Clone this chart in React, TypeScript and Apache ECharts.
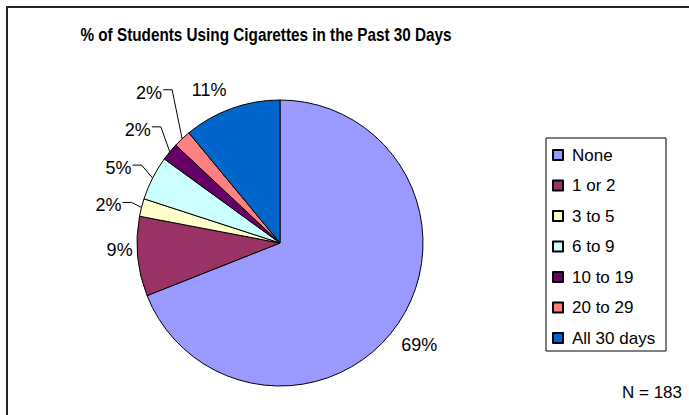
import React, { useEffect, useRef } from "react";
import * as echarts from "echarts";

const TITLE = "% of Students Using Cigarettes in the Past 30 Days";
const CATEGORIES = ["None", "1 or 2", "3 to 5", "6 to 9", "10 to 19", "20 to 29", "All 30 days"];
const PERCENTS = [69, 9, 2, 5, 2, 2, 11];
const COLORS = ["#9999FF", "#993366", "#FFFFCC", "#CCFFFF", "#660066", "#FF8080", "#0066CC"];
const N_NOTE = "N = 183";

// label placement relative to the slice's outer mid point (layout only)
const LABEL_OFFSETS: [number, number][] = [
  [3, 22],
  [-5, -6],
  [-20, -2],
  [-21, -10],
  [-19, -22],
  [-20, -46],
  [-5, -18],
];
const HAS_LEADER = [false, false, true, true, true, true, false];

const FONT = "'Liberation Sans', Arial, sans-serif";
const CX = 280;
const CY = 243;
const R = 143;

export default function App() {
  const ref = useRef<HTMLDivElement>(null);

  useEffect(() => {
    if (!ref.current) return;
    const chart = echarts.init(ref.current, null, { renderer: "svg" });
    const total = PERCENTS.reduce((a, b) => a + b, 0);
    const edgeOf = (i: number): [number, number] => {
      let cum = 0;
      for (let k = 0; k < i; k++) cum += PERCENTS[k];
      const mid = ((cum + PERCENTS[i] / 2) / total) * Math.PI * 2;
      return [CX + R * Math.sin(mid), CY - R * Math.cos(mid)];
    };

    chart.setOption({
      animation: false,
      backgroundColor: "#ffffff",
      legend: {
        orient: "vertical",
        left: 546,
        top: 138,
        padding: [8.5, 5, 4.5, 6],
        itemGap: 13.5,
        itemWidth: 10,
        itemHeight: 10,
        icon: "rect",
        borderColor: "#000",
        borderWidth: 1,
        backgroundColor: "#fff",
        data: CATEGORIES,
        textStyle: {
          fontFamily: FONT,
          fontSize: 17,
          lineHeight: 17,
          color: "#000",
          padding: [0, 0, 0, 4],
          width: 89,
        },
      },
      graphic: [
        {
          type: "rect",
          shape: { x: 7, y: 7, width: 720, height: 440 },
          style: { fill: "none", stroke: "#222", lineWidth: 2 },
          silent: true,
        },
        {
          type: "text",
          x: 266,
          y: 35,
          scaleX: 0.85,
          style: {
            text: TITLE,
            font: `bold 18px ${FONT}`,
            fill: "#000",
            textAlign: "center",
            textVerticalAlign: "middle",
          },
        },
        {
          type: "text",
          x: 682,
          y: 392,
          style: {
            text: N_NOTE,
            font: `17px ${FONT}`,
            fill: "#000",
            textAlign: "right",
            textVerticalAlign: "middle",
          },
        },
      ],
      series: [
        {
          type: "pie",
          center: [CX, CY],
          radius: R,
          startAngle: 90,
          clockwise: true,
          avoidLabelOverlap: false,
          percentPrecision: 0,
          itemStyle: { borderColor: "#000", borderWidth: 1 },
          label: {
            show: true,
            position: "outside",
            formatter: "{d}%",
            fontFamily: FONT,
            fontSize: 18,
            color: "#000",
          },
          labelLine: { show: true, lineStyle: { color: "#000", width: 1 } },
          emphasis: { disabled: true },
          labelLayout: (p: any) => {
            const i = p.dataIndex;
            const pts = p.labelLinePoints;
            const edge: [number, number] = pts && pts[0] ? [pts[0][0], pts[0][1]] : edgeOf(i);
            const off = LABEL_OFFSETS[i];
            const x = edge[0] + off[0];
            const y = edge[1] + off[1];
            const res: any = {
              x,
              y,
              align: off[0] < 0 ? "right" : "left",
              verticalAlign: "middle",
            };
            if (HAS_LEADER[i]) {
              res.labelLinePoints = [
                [x + 1, y - 3],
                [x + 10, y - 3],
                edge,
              ];
            } else {
              res.labelLinePoints = [edge, edge, edge];
            }
            return res;
          },
          data: CATEGORIES.map((name, i) => ({
            name,
            value: PERCENTS[i],
            itemStyle: { color: COLORS[i] },
            labelLine: HAS_LEADER[i] ? {} : { lineStyle: { opacity: 0 } },
          })),
        },
      ],
    });
    return () => chart.dispose();
  }, []);

  return (
    <div
      ref={ref}
      style={{ position: "fixed", left: 0, top: 0, width: 689, height: 415, background: "#fff" }}
    />
  );
}
